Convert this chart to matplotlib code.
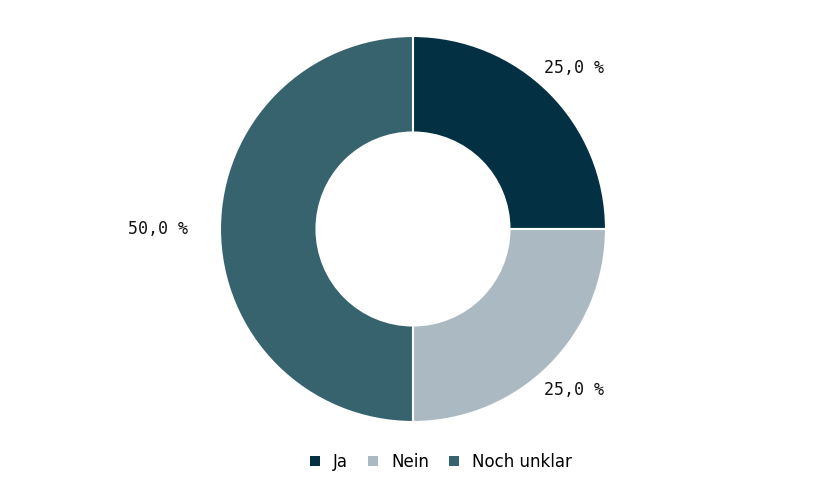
import matplotlib
matplotlib.use("Agg")
import matplotlib.pyplot as plt
from matplotlib.patches import Patch

categories = ["Ja", "Nein", "Noch unklar"]
values = [25.0, 25.0, 50.0]
labels = ["25,0 %", "25,0 %", "50,0 %"]
colors = ["#033042", "#abbac2", "#37636f"]

fig = plt.figure(figsize=(8.4, 5), dpi=100)
ax = fig.add_axes([0.2619, 0.156, 0.4595, 0.772])
wedges, _ = ax.pie(values, colors=colors, startangle=90, counterclock=False,
                   radius=1.0, wedgeprops=dict(width=0.5, edgecolor="white", linewidth=1.5))
ax.set_aspect("equal")
ax.set_xlim(-1, 1); ax.set_ylim(-1, 1)

import numpy as np
start = 90
for v, lab in zip(values, labels):
    mid = start - v / 100 * 360 / 2
    start -= v / 100 * 360
    a = np.deg2rad(mid)
    ax.text(1.18 * np.cos(a) * (1 if v < 50 else 1.12), 1.18 * np.sin(a) * (1 if v < 50 else 1.12) + 0.0,
            lab, ha="center", va="center", fontsize=12, family="DejaVu Sans Mono", color="#111111")

handles = [Patch(facecolor=c, edgecolor="none") for c in colors]
fig.legend(handles, categories, loc="center", bbox_to_anchor=(0.525, 0.076), ncol=3, frameon=False,
           fontsize=12, handlelength=0.6, handleheight=0.6, handletextpad=0.8, columnspacing=1.2)
fig.savefig("out.png", dpi=100, facecolor="white")
